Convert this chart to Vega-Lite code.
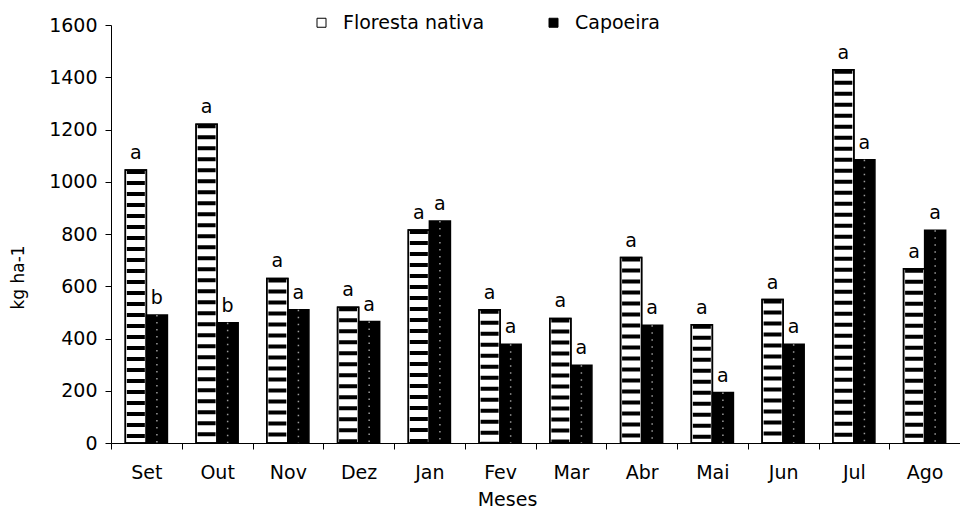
{
  "$schema": "https://vega.github.io/schema/vega-lite/v6.json",
  "width": 849,
  "height": 418,
  "autosize": {"type": "none"},
  "padding": {"left": 111, "top": 25, "right": 0, "bottom": 66},
  "background": "white",
  "config": {
    "view": {"stroke": null},
    "font": "DejaVu Sans",
    "axis": {
      "grid": false,
      "domainColor": "black",
      "domainWidth": 1,
      "tickColor": "black",
      "tickWidth": 1,
      "tickSize": 6,
      "labelColor": "black",
      "labelFont": "DejaVu Sans",
      "labelFontSize": 19,
      "titleColor": "black",
      "titleFontWeight": "normal"
    },
    "legend": {
      "labelFont": "DejaVu Sans",
      "labelFontSize": 19,
      "labelColor": "black"
    }
  },
  "data": {
    "values": [
      {"mes": "Set", "tipo": "Floresta nativa", "valor": 1045, "letra": "a"},
      {"mes": "Set", "tipo": "Capoeira", "valor": 490, "letra": "b"},
      {"mes": "Out", "tipo": "Floresta nativa", "valor": 1220, "letra": "a"},
      {"mes": "Out", "tipo": "Capoeira", "valor": 460, "letra": "b"},
      {"mes": "Nov", "tipo": "Floresta nativa", "valor": 630, "letra": "a"},
      {"mes": "Nov", "tipo": "Capoeira", "valor": 510, "letra": "a"},
      {"mes": "Dez", "tipo": "Floresta nativa", "valor": 520, "letra": "a"},
      {"mes": "Dez", "tipo": "Capoeira", "valor": 465, "letra": "a"},
      {"mes": "Jan", "tipo": "Floresta nativa", "valor": 815, "letra": "a"},
      {"mes": "Jan", "tipo": "Capoeira", "valor": 850, "letra": "a"},
      {"mes": "Fev", "tipo": "Floresta nativa", "valor": 510, "letra": "a"},
      {"mes": "Fev", "tipo": "Capoeira", "valor": 378, "letra": "a"},
      {"mes": "Mar", "tipo": "Floresta nativa", "valor": 477, "letra": "a"},
      {"mes": "Mar", "tipo": "Capoeira", "valor": 298, "letra": "a"},
      {"mes": "Abr", "tipo": "Floresta nativa", "valor": 710, "letra": "a"},
      {"mes": "Abr", "tipo": "Capoeira", "valor": 451, "letra": "a"},
      {"mes": "Mai", "tipo": "Floresta nativa", "valor": 453, "letra": "a"},
      {"mes": "Mai", "tipo": "Capoeira", "valor": 193, "letra": "a"},
      {"mes": "Jun", "tipo": "Floresta nativa", "valor": 549, "letra": "a"},
      {"mes": "Jun", "tipo": "Capoeira", "valor": 378, "letra": "a"},
      {"mes": "Jul", "tipo": "Floresta nativa", "valor": 1429, "letra": "a"},
      {"mes": "Jul", "tipo": "Capoeira", "valor": 1084, "letra": "a"},
      {"mes": "Ago", "tipo": "Floresta nativa", "valor": 667, "letra": "a"},
      {"mes": "Ago", "tipo": "Capoeira", "valor": 814, "letra": "a"}
    ]
  },
  "encoding": {
    "x": {
      "field": "mes",
      "type": "nominal",
      "sort": ["Set", "Out", "Nov", "Dez", "Jan", "Fev", "Mar", "Abr", "Mai", "Jun", "Jul", "Ago"],
      "scale": {"paddingInner": 0, "paddingOuter": 0},
      "title": "Meses",
      "axis": {
        "labelAngle": 0,
        "tickBand": "extent",
        "labelPadding": 14,
        "titleFont": "DejaVu Sans",
        "titleFontSize": 19,
        "titleX": 396,
        "titleY": 62,
        "titleAlign": "center",
        "titleBaseline": "alphabetic"
      }
    },
    "xOffset": {
      "field": "tipo",
      "type": "nominal",
      "sort": ["Floresta nativa", "Capoeira"],
      "scale": {"paddingInner": 0, "paddingOuter": 0.68}
    },
    "y": {
      "field": "valor",
      "type": "quantitative",
      "scale": {"domain": [0, 1600], "nice": false},
      "title": "kg ha-1",
      "axis": {
        "values": [0, 200, 400, 600, 800, 1000, 1200, 1400, 1600],
        "format": "d",
        "labelPadding": 8,
        "titleFont": "DejaVu Sans",
        "titleFontSize": 17,
        "titleAngle": -90,
        "titleX": -93,
        "titleY": 252,
        "titleAlign": "center",
        "titleBaseline": "middle"
      }
    }
  },
  "layer": [
    {
      "mark": {"type": "bar", "stroke": "black", "strokeWidth": 1.5},
      "encoding": {
        "color": {
          "field": "tipo",
          "type": "nominal",
          "scale": {"domain": ["Floresta nativa", "Capoeira"], "range": ["white", "black"]},
          "title": null,
          "legend": {
            "orient": "none",
            "legendX": 201,
            "legendY": -12,
            "direction": "horizontal",
            "symbolType": "square",
            "symbolSize": 81,
            "symbolStrokeColor": "black",
            "symbolStrokeWidth": 1,
            "symbolOpacity": 1,
            "labelOffset": 12,
            "columnPadding": 59,
            "labelLimit": 300
          }
        }
      }
    },
    {
      "transform": [{"filter": "datum.tipo === 'Floresta nativa'"}],
      "mark": {"type": "rule", "color": "black", "strokeWidth": 18, "strokeDash": [4, 7], "strokeCap": "butt"},
      "encoding": {"y2": {"datum": 0}}
    },
    {
      "transform": [{"filter": "datum.tipo === 'Floresta nativa'"}],
      "mark": {"type": "bar", "fill": "transparent", "stroke": "black", "strokeWidth": 1.5},
      "encoding": {}
    },
    {
      "transform": [{"filter": "datum.tipo === 'Capoeira'"}],
      "mark": {"type": "rule", "color": "#9a9a9a", "strokeWidth": 1.5, "strokeDash": [1.5, 5.5], "strokeCap": "butt"},
      "encoding": {"y2": {"datum": 0}}
    },
    {
      "mark": {"type": "text", "dy": -11, "baseline": "alphabetic", "align": "center", "fontSize": 19, "font": "DejaVu Sans", "color": "black"},
      "encoding": {"text": {"field": "letra"}}
    }
  ]
}
